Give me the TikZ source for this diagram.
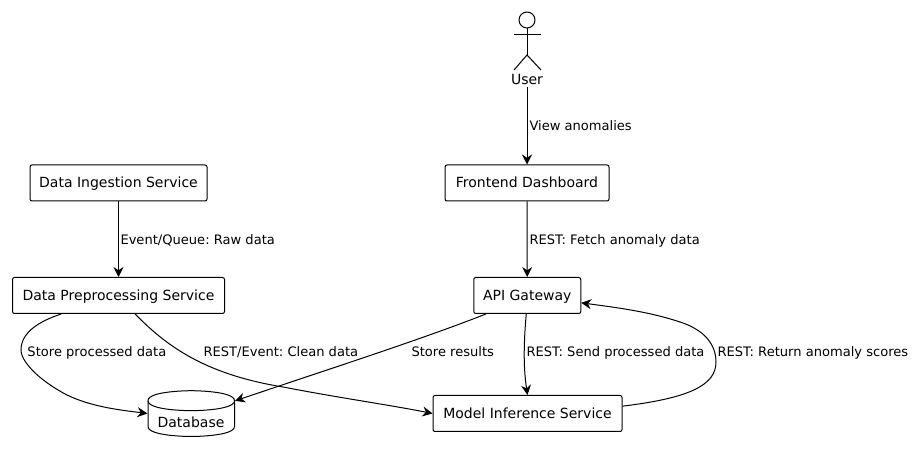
\documentclass[tikz,border=0pt]{standalone}
\usepackage{fontspec}
\setmainfont{DejaVu Sans}
\usetikzlibrary{arrows.meta}
\frenchspacing

\begin{document}
\begin{tikzpicture}[
        x=0.75pt,y=-0.75pt,
        line width=0.75pt,
        service/.style={draw=black,rounded corners=1.5pt,minimum height=27pt,inner sep=0pt,text height=8.75pt,text depth=1.25pt,font=\fontsize{10.5}{12}\selectfont},
        store/.style={minimum width=65pt,minimum height=34.5pt,inner sep=0pt},
        flow/.style={-{Stealth[length=7.5pt,width=7.5pt,inset=2.5pt]}},
        flowlabel/.style={anchor=base west,inner sep=0pt,font=\fontsize{9.8}{12}\selectfont}
    ]
        \useasboundingbox (0,0) rectangle (915,452);

        \node[service,minimum width=132.75pt] (ingestion) at (118.5,183) {Data Ingestion Service};
        \node[service,minimum width=123pt] (frontend) at (527,183) {Frontend Dashboard};
        \node[service,minimum width=159pt] (preprocessing) at (118.5,295.5) {Data Preprocessing Service};
        \node[service,minimum width=80.25pt] (gateway) at (527.25,295.5) {API Gateway};
        \node[service,minimum width=141.75pt] (inference) at (527.5,413.5) {Model Inference Service};

        \node[store] (database) at (191.25,413.5) {};
        \draw (148,400.7)
            .. controls (148,390.7) and (191.25,390.7) .. (191.25,390.7)
            .. controls (191.25,390.7) and (234.5,390.7) .. (234.5,400.7)
            -- (234.5,426.5)
            .. controls (234.5,436.5) and (191.25,436.5) .. (191.25,436.5)
            .. controls (191.25,436.5) and (148,436.5) .. (148,426.5)
            -- cycle;
        \draw (148,400.7)
            .. controls (148,410.7) and (191.25,410.7) .. (191.25,410.7)
            .. controls (191.25,410.7) and (234.5,410.7) .. (234.5,400.7);
        \node[font=\fontsize{10.5}{12}\selectfont] (databasetext) at (191,422.5) {Database};

        \node[circle,draw=black,minimum size=12pt,inner sep=0pt] (head) at (527,20) {};
        \coordinate (hip) at (527,55);
        \draw (head) -- (hip);
        \draw (514,35) -- (541,35);
        \draw (514,70) -- (hip) -- (541,70);
        \node[font=\fontsize{10.5}{12}\selectfont] (user) at (527,79) {User};

        \draw[flow] (527,87) -- (frontend.north);
        \draw[flow] (ingestion) -- (preprocessing);
        \draw[flow] (frontend) -- (gateway);
        \draw[flow] ([xshift=-43pt]preprocessing.south)
            .. controls (40,321) and (21,332) .. (21,350)
            .. controls (21,362) and (40,381) .. (67,395)
            .. controls (92,407) and (120,410) .. (database.west);
        \draw[flow] ([xshift=12.5pt]preprocessing.south)
            .. controls (170,350) and (210,375) .. (283,387)
            .. controls (340,398) and (390,405) .. (inference.west);
        \draw[flow] ([xshift=-31pt]gateway.south)
            .. controls (420,340) and (320,372) .. ([yshift=9.5pt]database.east);
        \draw[flow] ([xshift=-0.75pt]gateway.south)
            .. controls (524,340) and (523,365) .. (inference.north);
        \draw[flow] ([yshift=5.5pt]inference.east)
            .. controls (690,398) and (716,385) .. (716,362)
            .. controls (716,345) and (705,330) .. (680,322)
            .. controls (650,312) and (620,308) .. ([yshift=-5.5pt]gateway.east);

        \node[flowlabel] (viewlabel) at (529,130.5) {View anomalies};
        \node[flowlabel] (rawlabel) at (120,244.5) {Event/Queue: Raw data};
        \node[flowlabel] (fetchlabel) at (529,244.5) {REST: Fetch anomaly data};
        \node[flowlabel] (storedlabel) at (27,357) {Store processed data};
        \node[flowlabel] (cleanlabel) at (203,357) {REST/Event: Clean data};
        \node[flowlabel] (resultslabel) at (411,357) {Store results};
        \node[flowlabel] (sendlabel) at (526,357) {REST: Send processed data};
        \node[flowlabel] (returnlabel) at (717,357) {REST: Return anomaly scores};
    \end{tikzpicture}
\end{document}
